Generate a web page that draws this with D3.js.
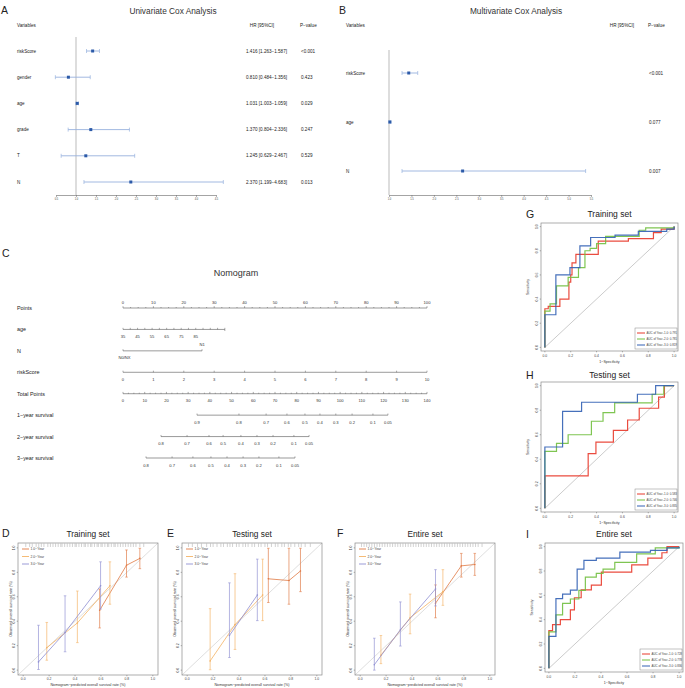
<!DOCTYPE html>
<html><head><meta charset="utf-8">
<script src="https://cdn.jsdelivr.net/npm/d3@7"></script>
<style>body{margin:0;background:#fff}svg{display:block;font-family:"Liberation Sans",Arial,sans-serif}</style>
</head><body><svg id="c" width="685" height="688"></svg>
<script>
// ---------------- DATA ----------------
// A: univariate Cox
const uniVars = ["riskScore","gender","age","grade","T","N"];
const uniHR   = [1.416,0.810,1.031,1.370,1.245,2.370];
const uniLow  = [1.263,0.484,1.003,0.804,0.629,1.199];
const uniHigh = [1.587,1.356,1.059,2.336,2.467,4.683];
const uniP    = ["<0.001","0.423","0.029","0.247","0.529","0.013"];
const uniTicks = [0.5,1,1.5,2,2.5,3,3.5,4,4.5];
// B: multivariate Cox
const multiVars = ["riskScore","age","N"];
const multiHR   = [1.44,1.02,2.64];
const multiLow  = [1.29,1.00,1.29];
const multiHigh = [1.64,1.04,5.38];
const multiP    = ["<0.001","0.077","0.007"];
const multiTicks = [1,1.5,2,2.5,3,3.5,4,4.5,5,5.5];
// C: nomogram
const nomRows = ["Points","age","N","riskScore","Total Points","1\u2212year survival","2\u2212year survival","3\u2212year survival"];
const pointsTicks = [0,10,20,30,40,50,60,70,80,90,100];
const ageTicks = [35,40,45,50,55,60,65,70,75,80,85,90,95,100,105];
const ageLabels = [35,45,55,65,75,85];
const agePointRange = [0,33.5];
const nLevels = ["N0/NX","N1"];
const nPoints = [0,26];
const riskTicks = [0,1,2,3,4,5,6,7,8,9,10];
const totalTicks = [0,10,20,30,40,50,60,70,80,90,100,110,120,130,140];
const surv1Labels = ["0.9","0.8","0.7","0.6","0.5","0.4","0.3","0.2","0.1","0.05"];
const surv1Points = [34.1,53.4,65.9,75.5,83.8,90.7,98.0,105.5,115.1,122.0];
const surv2Labels = ["0.8","0.7","0.6","0.5","0.4","0.3","0.2","0.1","0.05"];
const surv2Points = [17.5,29.5,39.6,46.1,54.3,61.7,69.1,78.7,85.7];
const surv3Labels = ["0.8","0.7","0.6","0.5","0.4","0.3","0.2","0.1","0.05"];
const surv3Points = [10.6,22.6,32.2,40.5,47.9,55.3,62.6,71.8,79.2];
// D/E/F: calibration [predicted, observed, lower, upper]
const trainCal1 = [[0.59,0.49,0.345,0.664],[0.797,0.858,0.761,0.983],[0.90,0.914,0.83,0.997]];
const trainCal2 = [[0.182,0.183,0.081,0.39],[0.418,0.386,0.225,0.647],[0.669,0.69,0.539,0.886]];
const trainCal3 = [[0.118,0.067,0.005,0.367],[0.323,0.308,0.15,0.608],[0.597,0.69,0.50,0.886]];
const testCal1 = [[0.626,0.747,0.553,0.997],[0.785,0.733,0.539,0.997],[0.874,0.811,0.642,0.997]];
const testCal2 = [[0.177,0.075,0.003,0.503],[0.369,0.372,0.169,0.789],[0.582,0.614,0.405,0.908]];
const testCal3 = [[0.326,0.283,0.103,0.714],[0.541,0.614,0.405,0.908]];
const entireCal1 = [[0.581,0.547,0.428,0.697],[0.78,0.853,0.761,0.955],[0.884,0.864,0.775,0.955]];
const entireCal2 = [[0.16,0.122,0.053,0.283],[0.385,0.428,0.297,0.622],[0.638,0.642,0.53,0.822]];
const entireCal3 = [[0.109,0.044,0.0,0.261],[0.31,0.33,0.197,0.558],[0.581,0.664,0.525,0.822]];
const trainRug = [0.02,0.05,0.07,0.1,0.12,0.14,0.16,0.19,0.21,0.23,0.25,0.27,0.29,0.3,0.32,0.34,0.36,0.38,0.4,0.41,0.43,0.45,0.47,0.48,0.5,0.52,0.53,0.55,0.57,0.58,0.6,0.61,0.63,0.65,0.66,0.68,0.7,0.71,0.73,0.75,0.77,0.79,0.81,0.83,0.85,0.87,0.9,0.93];
const testRug = [0.01,0.04,0.08,0.11,0.15,0.18,0.2,0.23,0.26,0.28,0.31,0.33,0.35,0.38,0.4,0.43,0.45,0.47,0.5,0.52,0.55,0.57,0.6,0.62,0.65,0.68,0.7,0.73,0.75,0.78,0.8,0.83,0.86,0.88,0.91,0.95];
const entireRug = [0.01,0.03,0.05,0.07,0.09,0.11,0.13,0.15,0.17,0.19,0.21,0.23,0.25,0.27,0.29,0.31,0.33,0.35,0.37,0.39,0.41,0.43,0.45,0.47,0.49,0.51,0.53,0.55,0.57,0.59,0.61,0.63,0.65,0.67,0.69,0.71,0.73,0.75,0.77,0.79,0.81,0.83,0.85,0.87,0.89,0.91,0.94];
const calLegend = ["1.0\u2212Year","2.0\u2212Year","3.0\u2212Year"];
// G/H/I: ROC step curves [fpr, tpr]
const trainRoc1 = [[0,0],[0,0.32],[0.026,0.32],[0.026,0.34],[0.116,0.34],[0.116,0.40],[0.186,0.40],[0.186,0.54],[0.2,0.54],[0.2,0.6],[0.21,0.6],[0.21,0.7],[0.24,0.7],[0.24,0.77],[0.413,0.77],[0.413,0.88],[0.646,0.88],[0.646,0.90],[0.84,0.90],[0.84,0.95],[0.9,0.95],[0.9,0.98],[1,0.98],[1,1]];
const trainRoc2 = [[0,0],[0,0.3],[0.04,0.3],[0.04,0.36],[0.09,0.36],[0.09,0.51],[0.18,0.51],[0.18,0.58],[0.26,0.58],[0.26,0.66],[0.31,0.66],[0.31,0.8],[0.35,0.8],[0.35,0.82],[0.4,0.82],[0.4,0.86],[0.47,0.86],[0.47,0.92],[0.73,0.92],[0.73,0.97],[0.78,0.97],[0.78,0.99],[1,0.99],[1,1]];
const trainRoc3 = [[0,0],[0,0.27],[0.085,0.27],[0.085,0.6],[0.194,0.6],[0.194,0.66],[0.271,0.66],[0.271,0.84],[0.354,0.84],[0.354,0.91],[0.543,0.91],[0.543,0.93],[0.723,0.93],[0.723,0.96],[0.943,0.96],[0.943,0.98],[1,0.98],[1,1]];
const testRoc1 = [[0,0],[0,0.264],[0.335,0.264],[0.335,0.446],[0.395,0.446],[0.395,0.54],[0.53,0.54],[0.53,0.636],[0.64,0.636],[0.64,0.72],[0.73,0.72],[0.73,0.816],[0.88,0.816],[0.88,0.906],[0.925,0.906],[0.925,1],[1,1]];
const testRoc2 = [[0,0],[0,0.465],[0.09,0.465],[0.09,0.53],[0.18,0.53],[0.18,0.6],[0.36,0.6],[0.36,0.71],[0.45,0.71],[0.45,0.78],[0.54,0.78],[0.54,0.86],[0.83,0.86],[0.83,0.93],[0.92,0.93],[0.92,1],[1,1]];
const testRoc3 = [[0,0],[0,0.5],[0.137,0.5],[0.137,0.79],[0.284,0.79],[0.284,0.865],[0.716,0.865],[0.716,0.93],[0.857,0.93],[0.857,1],[1,1]];
const entireRoc1 = [[0,0],[0,0.31],[0.028,0.31],[0.028,0.36],[0.088,0.36],[0.088,0.4],[0.165,0.4],[0.165,0.48],[0.196,0.48],[0.196,0.58],[0.248,0.58],[0.248,0.645],[0.326,0.645],[0.326,0.684],[0.403,0.684],[0.403,0.79],[0.636,0.79],[0.636,0.85],[0.76,0.85],[0.76,0.906],[0.868,0.906],[0.868,0.95],[0.907,0.95],[0.907,1],[1,1]];
const entireRoc2 = [[0,0],[0,0.3],[0.054,0.3],[0.054,0.44],[0.105,0.44],[0.105,0.534],[0.165,0.534],[0.165,0.57],[0.23,0.57],[0.23,0.64],[0.28,0.64],[0.28,0.75],[0.364,0.75],[0.364,0.78],[0.416,0.78],[0.416,0.816],[0.506,0.816],[0.506,0.87],[0.674,0.87],[0.674,0.94],[0.817,0.94],[0.817,0.99],[1,0.99],[1,1]];
const entireRoc3 = [[0,0],[0,0.263],[0.054,0.263],[0.054,0.573],[0.105,0.573],[0.105,0.61],[0.165,0.61],[0.165,0.643],[0.217,0.643],[0.217,0.816],[0.269,0.816],[0.269,0.887],[0.364,0.887],[0.364,0.906],[0.545,0.906],[0.545,0.955],[0.78,0.955],[0.78,0.97],[0.907,0.97],[0.907,0.99],[1,0.99],[1,1]];
const trainAUC = ["AUC of Year\u22121.0: 0.791","AUC of Year\u22122.0: 0.781","AUC of Year\u22123.0: 0.819"];
const testAUC  = ["AUC of Year\u22121.0: 0.583","AUC of Year\u22122.0: 0.746","AUC of Year\u22123.0: 0.835"];
const entireAUC = ["AUC of Year\u22121.0: 0.728","AUC of Year\u22122.0: 0.778","AUC of Year\u22123.0: 0.836"];
const axisTicks01 = [0,0.2,0.4,0.6,0.8,1.0];

// ---------------- DRAWING ----------------
const svg = d3.select("#c");
svg.append("rect").attr("width",685).attr("height",688).attr("fill","#fff");
function txt(x,y,s,size,o={}){
  const t = svg.append("text").attr("x",x).attr("y",y).text(s).attr("font-size",size)
    .attr("fill",o.fill||"#222").attr("dominant-baseline","central");
  if(o.anchor) t.attr("text-anchor",o.anchor);
  if(o.rotate!==undefined) t.attr("transform",`rotate(${o.rotate},${x},${y})`);
  return t;
}
function ln(x1,y1,x2,y2,c,w,o){
  const l = svg.append("line").attr("x1",x1).attr("y1",y1).attr("x2",x2).attr("y2",y2).attr("stroke",c).attr("stroke-width",w);
  if(o!==undefined) l.attr("stroke-opacity",o);
  return l;
}
const fmt3 = d3.format(".3f");

// Forest plots
function forest(c){
  const y = d3.scalePoint().domain(c.vars).range(c.yRange);
  ln(c.x(1),c.lineTop,c.x(1),195,"#aaa",0.8);
  const ax = svg.append("g").attr("transform","translate(0,195)")
    .call(d3.axisBottom(c.x).tickValues(c.ticks).tickSize(2).tickSizeOuter(0).tickFormat(d3.format(".1f")));
  ax.select(".domain").attr("stroke","#666").attr("stroke-width",0.6);
  ax.selectAll(".tick line").attr("stroke","#666").attr("stroke-width",0.5);
  ax.selectAll(".tick text").attr("font-size",2.6).attr("y",3.2).attr("fill","#444");
  txt(c.titleX,11,c.title,8.3,{anchor:"middle",fill:"#333"});
  txt(c.letterX,10,c.letter,10.5,{fill:"#222"});
  txt(c.varX,25,"Variables",4.6,{fill:"#222"});
  txt(c.hrHeadX,25,"HR [95%CI]",4.6,{anchor:"middle"});
  txt(c.pX-1,25,"P\u2212value",4.6);
  c.vars.forEach((v,i)=>{
    const yy = y(v);
    ln(c.x(c.lo[i]),yy,c.x(c.hi[i]),yy,"#97b1de",0.9);
    ln(c.x(c.lo[i]),yy-2,c.x(c.lo[i]),yy+2,"#97b1de",0.7);
    ln(c.x(c.hi[i]),yy-2,c.x(c.hi[i]),yy+2,"#97b1de",0.7);
    svg.append("rect").attr("x",c.x(c.hr[i])-1.5).attr("y",yy-1.5).attr("width",3).attr("height",3).attr("fill","#2c5aa8");
    txt(c.varX,yy,v,4.6);
    if(c.showHR) txt(c.hrX,yy,`${fmt3(c.hr[i])} [${fmt3(c.lo[i])}\u2212${fmt3(c.hi[i])}]`,4.6,{anchor:"end"});
    txt(c.pX,yy,c.p[i],4.6);
  });
}
forest({vars:uniVars,hr:uniHR,lo:uniLow,hi:uniHigh,p:uniP,ticks:uniTicks,
  x:d3.scaleLinear([0.5,4.5],[56,216]),yRange:[51,182],lineTop:37,showHR:true,hrX:287,hrHeadX:262,pX:301,
  title:"Univariate Cox Analysis",titleX:173,letter:"A",letterX:1,varX:17});
forest({vars:multiVars,hr:multiHR,lo:multiLow,hi:multiHigh,p:multiP,ticks:multiTicks,
  x:d3.scaleLinear([1,5.5],[389,591]),yRange:[73,171],lineTop:50,showHR:false,hrX:0,hrHeadX:622,pX:649,
  title:"Multivariate Cox Analysis",titleX:516,letter:"B",letterX:339,varX:346});

// Nomogram
txt(2,253,"C",10.5);
txt(236,273,"Nomogram",9,{anchor:"middle",fill:"#333"});
const rowY = d3.scalePoint().domain(nomRows).range([308,458]);
const pts = d3.scaleLinear([0,100],[123,427]);
const tot = d3.scaleLinear([0,140],[123,427]);
const agePts = d3.scaleLinear([35,105],agePointRange);
const risk = d3.scaleLinear([0,10],[123,427]);
const NC = "#555", TS = 4.1;
nomRows.forEach(r=>txt(17,rowY(r),r,5.4));
function nomLine(y,xa,xb){ ln(xa,y,xb,y,NC,0.6); }
// Points
{ const y=rowY("Points"); nomLine(y,pts(0),pts(100));
  d3.range(0,100.01,2.5).forEach(v=>ln(pts(v),y,pts(v),y-(v%10===0?1.8:1),NC,0.5));
  pointsTicks.forEach(v=>txt(pts(v),y-6,v,TS,{anchor:"middle",fill:"#333"})); }
// age
{ const y=rowY("age"); const ax=a=>pts(agePts(a)); nomLine(y,ax(35),ax(105));
  ageTicks.forEach(a=>ln(ax(a),y,ax(a),y-1.6,NC,0.5));
  ln(ax(105),y,ax(105),y+1.6,NC,0.5);
  ageLabels.forEach(a=>txt(ax(a),y+7,a,TS,{anchor:"middle",fill:"#333"})); }
// N
{ const y=rowY("N"); nomLine(y,pts(nPoints[0]),pts(nPoints[1]));
  ln(pts(nPoints[0]),y,pts(nPoints[0]),y-1.6,NC,0.5);
  ln(pts(nPoints[1]),y,pts(nPoints[1]),y-1.6,NC,0.5);
  txt(pts(nPoints[0])+1.5,y+7,nLevels[0],TS,{anchor:"middle",fill:"#333"});
  txt(pts(nPoints[1]),y-6,nLevels[1],TS,{anchor:"middle",fill:"#333"}); }
// riskScore
{ const y=rowY("riskScore"); nomLine(y,risk(0),risk(10));
  riskTicks.forEach(v=>ln(risk(v),y,risk(v),y-1.6,NC,0.5));
  riskTicks.forEach(v=>txt(risk(v),y+7,v,TS,{anchor:"middle",fill:"#333"})); }
// Total points
{ const y=rowY("Total Points"); nomLine(y,tot(0),tot(140));
  d3.range(0,140.01,2.5).forEach(v=>ln(tot(v),y,tot(v),y-(v%10===0?1.8:1),NC,0.5));
  totalTicks.forEach(v=>txt(tot(v),y+7,v,TS,{anchor:"middle",fill:"#333"})); }
// survival axes
[[nomRows[5],surv1Points,surv1Labels],[nomRows[6],surv2Points,surv2Labels],[nomRows[7],surv3Points,surv3Labels]].forEach(([r,p,l])=>{
  const y=rowY(r); nomLine(y,tot(p[0]),tot(p[p.length-1]));
  p.forEach((v,i)=>{ ln(tot(v),y,tot(v),y-1.6,NC,0.5); txt(tot(v),y+7,l[i],TS,{anchor:"middle",fill:"#333"}); });
});

// Calibration plots
const calCol = ["#e07a45","#f4b366","#9090d2"];
function calib(c){
  const x = d3.scaleLinear([-0.04,1.04],[c.x0,c.x1]);
  const y = d3.scaleLinear([-0.04,1.04],[c.y1,c.y0]);
  txt(c.letterX,533,c.letter,10.5);
  txt((c.x0+c.x1)/2,534,c.title,8.3,{anchor:"middle",fill:"#222"});
  ln(x(-0.04),y(-0.04),x(1.04),y(1.04),"#d0d0d0",0.7);
  c.rug.forEach(v=>ln(x(v),c.y0+0.5,x(v),c.y0+4,"#9a9a9a",0.45));
  c.series.forEach((s,k)=>{
    const col = calCol[k];
    svg.append("path").attr("d",d3.line().x(d=>x(d[0])).y(d=>y(d[1]))(s))
      .attr("fill","none").attr("stroke",col).attr("stroke-width",0.9).attr("stroke-opacity",0.9);
    s.forEach(d=>{
      ln(x(d[0]),y(d[2]),x(d[0]),y(d[3]),col,0.8,0.85);
      ln(x(d[0])-1.3,y(d[2]),x(d[0])+1.3,y(d[2]),col,0.7,0.85);
      ln(x(d[0])-1.3,y(d[3]),x(d[0])+1.3,y(d[3]),col,0.7,0.85);
      svg.append("circle").attr("cx",x(d[0])).attr("cy",y(d[1])).attr("r",0.8).attr("fill",col);
    });
  });
  calLegend.forEach((l,k)=>{
    const yy = c.y0+6+k*7.5;
    ln(c.x0+4,yy,c.x0+11,yy,calCol[k],0.9);
    txt(c.x0+12.5,yy,l,3.4,{fill:"#444"});
  });
  svg.append("rect").attr("x",c.x0).attr("y",c.y0).attr("width",c.x1-c.x0).attr("height",c.y1-c.y0)
    .attr("fill","none").attr("stroke","#8a8a8a").attr("stroke-width",0.7);
  axisTicks01.forEach(t=>{
    ln(x(t),c.y1,x(t),c.y1+1.3,"#666",0.5);
    txt(x(t),c.y1+3.6,d3.format(".1f")(t),3.4,{anchor:"middle",fill:"#444"});
    ln(c.x0,y(t),c.x0-1.3,y(t),"#666",0.5);
    txt(c.x0-3.6,y(t),d3.format(".1f")(t),3.4,{anchor:"middle",rotate:-90,fill:"#444"});
  });
  txt((c.x0+c.x1)/2,c.y1+10,"Nomogram\u2212predicted overall survival rate (%)",3.7,{anchor:"middle",fill:"#333"});
  txt(c.x0-7.5,(c.y0+c.y1)/2,"Observed overall survival rate (%)",3.7,{anchor:"middle",rotate:-90,fill:"#333"});
}
calib({x0:18,x1:158,y0:543,y1:675,title:"Training set",letter:"D",letterX:2,series:[trainCal1,trainCal2,trainCal3],rug:trainRug});
calib({x0:182,x1:322,y0:543,y1:675,title:"Testing set",letter:"E",letterX:167,series:[testCal1,testCal2,testCal3],rug:testRug});
calib({x0:355,x1:495,y0:543,y1:675,title:"Entire set",letter:"F",letterX:337,series:[entireCal1,entireCal2,entireCal3],rug:entireRug});

// ROC plots
const rocCol = ["#e8382a","#71bf3f","#3260b4"];
function roc(c){
  const x = d3.scaleLinear([-0.03,1.03],[c.x0,c.x1]);
  const y = d3.scaleLinear([-0.03,1.03],[c.y1,c.y0]);
  txt(526,c.titleY,c.letter,10.5);
  txt((c.x0+c.x1)/2,c.titleY,c.title,8.5,{anchor:"middle",fill:"#222"});
  ln(x(0),y(0),x(1),y(1),"#a8a8a8",0.6);
  c.curves.forEach((cv,k)=>{
    svg.append("path").attr("d",d3.line().x(d=>x(d[0])).y(d=>y(d[1]))(cv))
      .attr("fill","none").attr("stroke",rocCol[k]).attr("stroke-width",1.2).attr("stroke-opacity",0.9);
  });
  svg.append("rect").attr("x",c.x0).attr("y",c.y0).attr("width",c.x1-c.x0).attr("height",c.y1-c.y0)
    .attr("fill","none").attr("stroke","#8a8a8a").attr("stroke-width",0.7);
  // legend
  const lx = c.x1-43, ly = c.y1-23;
  svg.append("rect").attr("x",lx).attr("y",ly).attr("width",42).attr("height",21).attr("fill","#fff").attr("stroke","#888").attr("stroke-width",0.5);
  c.auc.forEach((a,k)=>{
    const yy = ly+5+k*6;
    ln(lx+2,yy,lx+10,yy,rocCol[k],1);
    txt(lx+11.5,yy,a,2.9,{fill:"#444"});
  });
  axisTicks01.forEach(t=>{
    ln(x(t),c.y1,x(t),c.y1+1.3,"#666",0.5);
    txt(x(t),c.y1+4.5,d3.format(".1f")(t),3.4,{anchor:"middle",fill:"#444"});
    ln(c.x0,y(t),c.x0-1.3,y(t),"#666",0.5);
    txt(c.x0-4,y(t),d3.format(".1f")(t),3.4,{anchor:"middle",rotate:-90,fill:"#444"});
  });
  txt((c.x0+c.x1)/2,c.y1+11,"1\u2212Specificity",3.6,{anchor:"middle",fill:"#333"});
  txt(c.x0-13,(c.y0+c.y1)/2,"Sensitivity",3.6,{anchor:"middle",rotate:-90,fill:"#333"});
}
roc({x0:541,x1:678,y0:223,y1:351,titleY:214,title:"Training set",letter:"G",curves:[trainRoc1,trainRoc2,trainRoc3],auc:trainAUC});
roc({x0:541,x1:678,y0:382,y1:512,titleY:375,title:"Testing set",letter:"H",curves:[testRoc1,testRoc2,testRoc3],auc:testAUC});
roc({x0:545,x1:683,y0:543,y1:672,titleY:534,title:"Entire set",letter:"I",curves:[entireRoc1,entireRoc2,entireRoc3],auc:entireAUC});
</script></body></html>
